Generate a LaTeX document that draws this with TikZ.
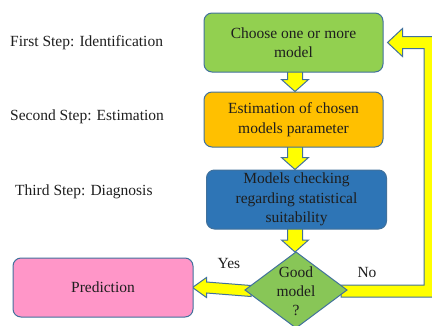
\documentclass[tikz,border=0pt]{standalone}
\usepackage{fontspec}
\setmainfont{Liberation Serif}
\usetikzlibrary{calc,backgrounds}
\definecolor{bd}{HTML}{41719C}
\definecolor{gA}{HTML}{92D050}
\definecolor{oA}{HTML}{FFC000}
\definecolor{bA}{HTML}{2E75B6}
\definecolor{pA}{HTML}{FF96C8}
\definecolor{dA}{HTML}{88C657}
\definecolor{yA}{HTML}{FFFF00}
\definecolor{tx}{HTML}{1E1E1E}
\begin{document}
\begin{tikzpicture}[x=1pt,y=-1pt,
  box/.style={draw=bd, line width=1pt, rounded corners=8pt, align=center,
    font=\fontsize{15.5}{19.5}\selectfont, text=tx, inner sep=0pt},
  blk/.style={draw=bd, line width=1pt, fill=yA, line join=miter},
  lbl/.style={font=\fontsize{15.5}{19}\selectfont, text=tx, inner sep=0pt}]
\useasboundingbox (0,0) rectangle (432,325);

% step labels
\node[lbl, anchor=west] (s1) at (10,43) {First Step: Identification};
\node[lbl, anchor=west] (s2) at (10,117) {Second Step: Estimation};
\node[lbl, anchor=west] (s3) at (15,192) {Third Step: Diagnosis};

% boxes
\node[box, fill=gA, minimum width=179pt, minimum height=59pt] (b1) at (293.5,42.5) {Choose one or more\\model};
\node[box, fill=oA, minimum width=179pt, minimum height=55pt] (b2) at (293.5,119.5) {Estimation of chosen\\models parameter};
\node[box, fill=bA, minimum width=180pt, minimum height=59pt] (b3) at (296.5,199.5) {Models checking\\regarding statistical\\suitability};
\node[box, fill=pA, minimum width=180pt, minimum height=59pt] (pred) at (103,287.5) {Prediction};

% diamond
\coordinate (dT) at (296,252);
\coordinate (dR) at (347,290);
\coordinate (dB) at (296,328);
\coordinate (dL) at (245,290);
\draw[draw=bd, line width=1pt, fill=dA] (dT) -- (dR) -- (dB) -- (dL) -- cycle;
\node[lbl, align=center, font=\fontsize{15.5}{19}\selectfont] (dq) at (296,291) {Good\\model\\?};

% labels
\node[lbl] (yes) at (229,263) {Yes};
\node[lbl] (no) at (367,272) {No};

\coordinate (ax) at (295,0);
\coordinate (tip) at ($(b1.east)+(4,0)$);
\coordinate (bendB) at (430,291);
\coordinate (bendT) at (430,42.5);

\begin{scope}[on background layer]
% down arrows
\draw[blk] ($(b1.south -| ax)+(-7.5,-2)$) -- ($(b1.south -| ax)+(7.5,-2)$) -- ($(b2.north -| ax)+(7.5,-12)$) -- ($(b2.north -| ax)+(13.5,-12)$) -- (b2.north -| ax) -- ($(b2.north -| ax)+(-13.5,-12)$) -- ($(b2.north -| ax)+(-7.5,-12)$) -- cycle;
\draw[blk] ($(b2.south -| ax)+(-7.5,-2)$) -- ($(b2.south -| ax)+(7.5,-2)$) -- ($(b3.north -| ax)+(7.5,-12)$) -- ($(b3.north -| ax)+(13.5,-12)$) -- (b3.north -| ax) -- ($(b3.north -| ax)+(-13.5,-12)$) -- ($(b3.north -| ax)+(-7.5,-12)$) -- cycle;
\draw[blk] ($(b3.south -| ax)+(-7.5,-2)$) -- ($(b3.south -| ax)+(7.5,-2)$) -- ($(dT -| ax)+(7.5,-12)$) -- ($(dT -| ax)+(13.5,-12)$) -- (dT -| ax) -- ($(dT -| ax)+(-13.5,-12)$) -- ($(dT -| ax)+(-7.5,-12)$) -- cycle;
% yes arrow
\draw[blk] ($(dL)+(6,-4.5)$) -- ($(pred.east)+(13,-5.5)$) -- ($(pred.east)+(13,-10)$) -- ($(pred.east)+(-1,0)$) -- ($(pred.east)+(13,10)$) -- ($(pred.east)+(13,5.5)$) -- ($(dL)+(6,6.5)$) -- cycle;
% no arrow (bent)
\draw[blk] ($(dR)+(-6,-5)$) -- ($(bendB)+(-6,-6)$) -- ($(bendT)+(-6,6)$) -- ($(tip)+(15,6)$) -- ($(tip)+(15,14)$) -- (tip) -- ($(tip)+(15,-14)$) -- ($(tip)+(15,-6)$) -- ($(bendT)+(6,-6)$) -- ($(bendB)+(6,6)$) -- ($(dR)+(-6,7)$) -- cycle;
\end{scope}
\end{tikzpicture}
\end{document}
